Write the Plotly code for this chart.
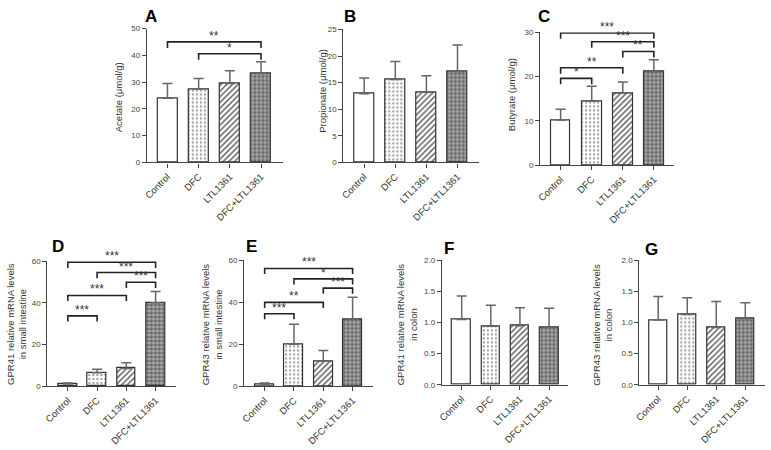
import plotly.graph_objects as go

categories = ["Control", "DFC", "LTL1361", "DFC+LTL1361"]

acetate_mean = [24.0, 27.4, 29.5, 33.2]
acetate_sd = [5.5, 3.9, 4.7, 4.4]
propionate_mean = [12.9, 15.6, 13.2, 17.1]
propionate_sd = [3.0, 3.4, 3.1, 5.0]
butyrate_mean = [10.2, 14.5, 16.3, 21.1]
butyrate_sd = [2.4, 3.3, 2.5, 2.7]
gpr41_si_mean = [1.0, 6.4, 8.5, 40.0]
gpr41_si_sd = [0.5, 1.7, 2.8, 5.4]
gpr43_si_mean = [1.0, 20.0, 12.0, 32.0]
gpr43_si_sd = [0.5, 9.6, 5.0, 10.5]
gpr41_colon_mean = [1.05, 0.94, 0.95, 0.92]
gpr41_colon_sd = [0.38, 0.34, 0.29, 0.31]
gpr43_colon_mean = [1.04, 1.13, 0.92, 1.06]
gpr43_colon_sd = [0.38, 0.27, 0.42, 0.26]

# significance brackets: (from group, to group, y value, label)
sig_A = [(0, 3, 45.0, "**"), (1, 3, 40.6, "*")]
sig_B = []
sig_C = [(0, 1, 19.6, "*"), (0, 2, 22.0, "**"), (2, 3, 25.7, "**"), (1, 3, 27.9, "***"), (0, 3, 29.9, "***")]
sig_D = [(0, 1, 33.7, "***"), (0, 2, 43.5, "***"), (2, 3, 49.8, "***"), (1, 3, 54.5, "***"), (0, 3, 59.4, "***")]
sig_E = [(0, 1, 34.6, "***"), (0, 2, 40.0, "**"), (2, 3, 46.8, "***"), (1, 3, 51.2, "*"), (0, 3, 56.2, "***")]

W, H = 771, 450
FONT = "Liberation Sans, Arial, sans-serif"

panels = [
    dict(letter="A", mean=acetate_mean, sd=acetate_sd, sig=sig_A, title="Acetate (μmol/g)",
         yr=[0, 50], dtick=10, xd=(142, 279), xr=[-0.66, 3.70], yd=(161.7, 25), tx=113, ty=95, lp=(146, 13), fmt=""),
    dict(letter="B", mean=propionate_mean, sd=propionate_sd, sig=sig_B, title="Propionate (μmol/g)",
         yr=[0, 25], dtick=5, xd=(340, 477), xr=[-0.67, 3.70], yd=(161.7, 26), tx=319, ty=89, lp=(347, 13), fmt=""),
    dict(letter="C", mean=butyrate_mean, sd=butyrate_sd, sig=sig_C, title="Butyrate (μmol/g)",
         yr=[0, 30], dtick=10, xd=(538.3, 673), xr=[-0.66, 3.64], yd=(164.3, 29), tx=509, ty=93, lp=(542, 13), fmt=""),
    dict(letter="D", mean=gpr41_si_mean, sd=gpr41_si_sd, sig=sig_D,
         title="GPR41 relative mRNA levels<br>in small intestine",
         yr=[0, 60], dtick=20, xd=(41.7, 171.7), xr=[-0.70, 3.71], yd=(390, 262.3), tx=10.5, ty=326, lp=(52, 247), fmt=""),
    dict(letter="E", mean=gpr43_si_mean, sd=gpr43_si_sd, sig=sig_E,
         title="GPR43 relative mRNA levels<br>in small intestine",
         yr=[0, 60], dtick=20, xd=(240, 370), xr=[-0.70, 3.70], yd=(390, 261.7), tx=207.5, ty=327, lp=(247, 247), fmt=""),
    dict(letter="F", mean=gpr41_colon_mean, sd=gpr41_colon_sd, sig=[],
         title="GPR41 relative mRNA levels<br>in colon",
         yr=[0, 2.0], dtick=0.5, xd=(439.3, 566.7), xr=[-0.68, 3.66], yd=(388.5, 261.7), tx=404, ty=327, lp=(446, 249), fmt=".1f"),
    dict(letter="G", mean=gpr43_colon_mean, sd=gpr43_colon_sd, sig=[],
         title="GPR43 relative mRNA levels<br>in colon",
         yr=[0, 2.0], dtick=0.5, xd=(638.3, 765), xr=[-0.65, 3.68], yd=(388.5, 261.7), tx=601, ty=327, lp=(651, 251), fmt=".1f"),
]

pat_shape = ["", ".", "/", "+"]
pat_fg = ["#ffffff", "#9a9a9a", "#555555", "#f0f0f0"]
pat_bg = ["#ffffff", "#ffffff", "#ffffff", "#666666"]
pat_size = [4, 4, 4, 4]
pat_sol = [0.2, 0.25, 0.35, 0.25]

fig = go.Figure()
shapes = []
annotations = []
layout = {}

for k, p in enumerate(panels, start=1):
    xa = "x" if k == 1 else f"x{k}"
    ya = "y" if k == 1 else f"y{k}"
    for c in range(len(categories)):
        fig.add_trace(go.Bar(
            x=[c], y=[p["mean"][c]], xaxis=xa, yaxis=ya,
            width=0.64,
            marker=dict(color=pat_bg[c], line=dict(color="#333333", width=1.2),
                        pattern=dict(shape=pat_shape[c], fgcolor=pat_fg[c], bgcolor=pat_bg[c],
                                     size=pat_size[c], solidity=pat_sol[c], fillmode="replace")),
            error_y=dict(type="data", array=[p["sd"][c]], arrayminus=[0], symmetric=False,
                         color="#666666", thickness=1.5, width=5),
            showlegend=False, hoverinfo="skip",
        ))
    x0, x1 = p["xd"]
    yb, yt = p["yd"]
    axis_common = dict(showline=True, linecolor="#444444", linewidth=1.3, ticks="outside",
                       ticklen=4, tickcolor="#444444", tickwidth=1.2, showgrid=False, zeroline=False)
    layout["xaxis" if k == 1 else f"xaxis{k}"] = dict(
        domain=[x0 / W, x1 / W], range=p["xr"], anchor=ya,
        tickmode="array", tickvals=list(range(len(categories))), ticktext=categories,
        tickangle=-45, tickfont=dict(family=FONT, size=9.5, color="#333333"), **axis_common)
    layout["yaxis" if k == 1 else f"yaxis{k}"] = dict(
        domain=[1 - yb / H, 1 - yt / H], range=p["yr"], anchor=xa, dtick=p["dtick"],
        tickformat=p["fmt"], tickfont=dict(family=FONT, size=8, color="#444444"), **axis_common)

    drop = 0.045 * (p["yr"][1] - p["yr"][0])
    for (i, j, yv, lab) in p["sig"]:
        shapes.append(dict(type="path", xref=xa, yref=ya,
                           path=f"M {i},{yv - drop} L {i},{yv} L {j},{yv} L {j},{yv - drop}",
                           line=dict(color="#222222", width=1.6)))
        annotations.append(dict(x=(i + j) / 2, y=yv, xref=xa, yref=ya, text=lab, showarrow=False,
                                yanchor="middle", yshift=6,
                                font=dict(family=FONT, size=12, color="#333333")))

    annotations.append(dict(x=p["tx"] / W, y=1 - p["ty"] / H, xref="paper", yref="paper",
                            text=p["title"], textangle=-90, showarrow=False,
                            xanchor="center", yanchor="middle",
                            font=dict(family=FONT, size=9.5, color="#333333")))
    annotations.append(dict(x=p["lp"][0] / W, y=1 - p["lp"][1] / H, xref="paper", yref="paper",
                            text=f"<b>{p['letter']}</b>", showarrow=False,
                            xanchor="center", yanchor="middle",
                            font=dict(family=FONT, size=17, color="#000000")))

fig.update_layout(width=W, height=H, margin=dict(l=0, r=0, t=0, b=0),
                  paper_bgcolor="white", plot_bgcolor="white", showlegend=False,
                  barmode="overlay", bargap=0, shapes=shapes, annotations=annotations, **layout)

fig.write_html("out.html", config={"displayModeBar": False},
               post_script="document.body.style.margin='0px';document.body.style.overflow='hidden';")
